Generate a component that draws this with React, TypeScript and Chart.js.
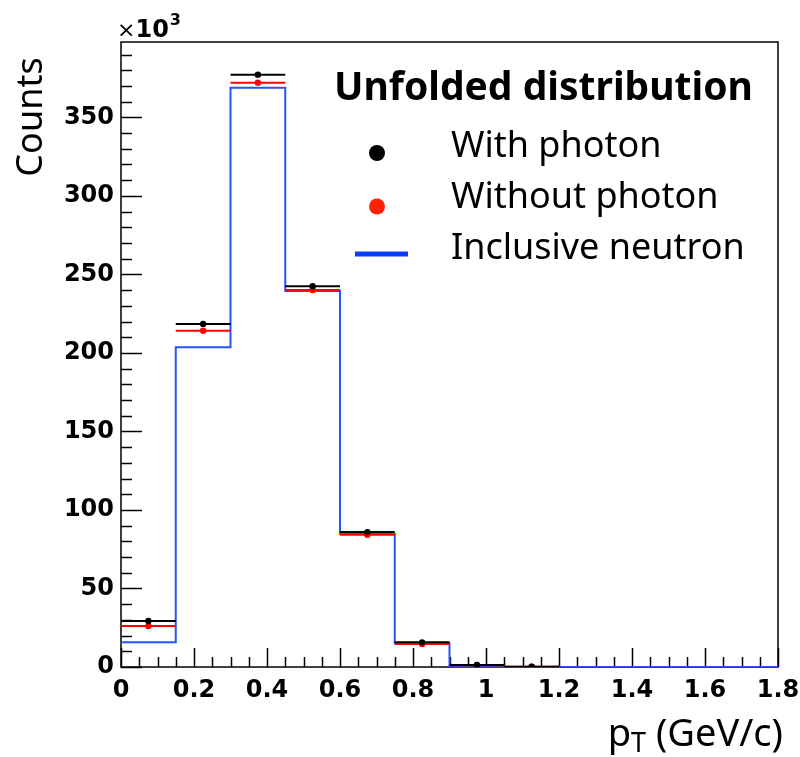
import React, { useEffect, useRef } from "react";
import { Chart, registerables } from "chart.js";
Chart.register(...registerables);

// Bin edges in pT (GeV/c)
const binEdges = [0, 0.15, 0.3, 0.45, 0.6, 0.75, 0.9, 1.05, 1.2, 1.35, 1.5, 1.65, 1.8];
// Counts in units of 10^3
const withPhoton = [29.3, 218.5, 377.2, 242.5, 85.9, 15.7, 1.3, 0.2, 0, 0, 0, 0];
const withoutPhoton = [26.1, 214.2, 372.1, 240.0, 84.2, 14.7, 1.1, 0.2, 0, 0, 0, 0];
const inclusiveNeutron = [15.7, 203.6, 368.9, 239.5, 84.8, 15.1, 0.4, 0.05, 0, 0, 0, 0];

const yTickValues = [0, 50, 100, 150, 200, 250, 300, 350];
const xTickValues = [0, 0.2, 0.4, 0.6, 0.8, 1, 1.2, 1.4, 1.6, 1.8];
const yMinorStep = 10;
const xMinorStep = 0.05;
const yMax = 398;
const xMin = 0;
const xMax = 1.8;

const legendTitle = "Unfolded distribution";
const seriesNames = ["With photon", "Without photon", "Inclusive neutron"];
const yTitle = "Counts";

const BLACK = "#000000";
const RED = "#ff0000";
const RED_LEGEND = "#ff2200";
const BLUE = "#2255ff";

type P = { x: number; y: number | null };

function errorBarPoints(values: number[]): P[] {
  const pts: P[] = [];
  values.forEach((v, i) => {
    if (v <= 0) return;
    pts.push({ x: binEdges[i], y: v }, { x: binEdges[i + 1], y: v }, { x: binEdges[i + 1], y: null });
  });
  return pts;
}
function centerPoints(values: number[]): P[] {
  const pts: P[] = [];
  values.forEach((v, i) => {
    if (v > 0) pts.push({ x: (binEdges[i] + binEdges[i + 1]) / 2, y: v });
  });
  return pts;
}
function stepPoints(values: number[]): P[] {
  const pts: P[] = [];
  values.forEach((v, i) => {
    pts.push({ x: binEdges[i], y: v }, { x: binEdges[i + 1], y: v });
  });
  return pts;
}

const TICK_FONT = "DejaVu Sans";
const TEXT_FONT = "Noto Sans";

const decor = {
  id: "decor",
  beforeDatasetsDraw(chart: any) {
    const { ctx, chartArea: a, scales } = chart;
    const xs = scales.x;
    const ys = scales.y;
    ctx.save();
    ctx.strokeStyle = "#000";
    ctx.lineWidth = 1.5;
    ctx.strokeRect(a.left, a.top, a.right - a.left, a.bottom - a.top);
    ctx.lineWidth = 1.5;
    const nY = Math.floor(yMax / yMinorStep + 1e-6);
    for (let k = 0; k <= nY; k++) {
      const v = k * yMinorStep;
      const major = yTickValues.includes(v);
      const py = Math.round(ys.getPixelForValue(v)) + 0.5;
      ctx.beginPath();
      ctx.moveTo(a.left, py);
      ctx.lineTo(a.left + (major ? 21 : 11), py);
      ctx.stroke();
    }
    const nX = Math.round((xMax - xMin) / xMinorStep);
    for (let k = 0; k <= nX; k++) {
      const v = xMin + k * xMinorStep;
      const major = xTickValues.some((t) => Math.abs(t - v) < 1e-6);
      const px = Math.round(xs.getPixelForValue(v)) + 0.5;
      ctx.beginPath();
      ctx.moveTo(px, a.bottom);
      ctx.lineTo(px, a.bottom - (major ? 19 : 10));
      ctx.stroke();
    }
    ctx.restore();
  },
  afterDraw(chart: any) {
    const { ctx } = chart;
    ctx.save();
    ctx.fillStyle = "#000";
    ctx.textBaseline = "alphabetic";
    // x10^3
    ctx.textAlign = "left";
    ctx.font = `22px ${TICK_FONT}`;
    ctx.fillText("×", 117, 37);
    const wx = ctx.measureText("×").width;
    ctx.font = `bold 24px ${TICK_FONT}`;
    ctx.fillText("10", 117 + wx, 37);
    const w10 = ctx.measureText("10").width;
    ctx.font = `bold 16px ${TICK_FONT}`;
    ctx.fillText("3", 117 + wx + w10 + 1, 25);

    // y title
    ctx.save();
    ctx.translate(42, 117);
    ctx.rotate(-Math.PI / 2);
    ctx.textAlign = "center";
    ctx.font = `36px ${TEXT_FONT}`;
    ctx.fillText(yTitle, 0, 0);
    ctx.restore();

    // x title: p_T (GeV/c)
    ctx.textAlign = "left";
    const p = "p";
    const rest = " (GeV/c)";
    ctx.font = `27px ${TEXT_FONT}`;
    const tw = ctx.measureText("T").width;
    ctx.font = `38px ${TEXT_FONT}`;
    const pw = ctx.measureText(p).width;
    const rw = ctx.measureText(rest).width;
    const xEnd = 783;
    const x0 = xEnd - (pw + tw + rw);
    ctx.fillText(p, x0, 746);
    ctx.font = `27px ${TEXT_FONT}`;
    ctx.fillText("T", x0 + pw, 752);
    ctx.font = `38px ${TEXT_FONT}`;
    ctx.fillText(rest, x0 + pw + tw, 746);

    // legend
    ctx.font = `bold 39px ${TEXT_FONT}`;
    ctx.fillText(legendTitle, 334, 100);
    ctx.font = `36px ${TEXT_FONT}`;
    ctx.fillText(seriesNames[0], 451, 157);
    ctx.fillText(seriesNames[1], 451, 208);
    ctx.fillText(seriesNames[2], 451, 259);
    ctx.fillStyle = BLACK;
    ctx.beginPath();
    ctx.arc(377, 153, 8, 0, Math.PI * 2);
    ctx.fill();
    ctx.fillStyle = RED_LEGEND;
    ctx.beginPath();
    ctx.arc(377, 206.5, 8, 0, Math.PI * 2);
    ctx.fill();
    ctx.strokeStyle = "#0a3cff";
    ctx.lineWidth = 5;
    ctx.beginPath();
    ctx.moveTo(355, 254);
    ctx.lineTo(408, 254);
    ctx.stroke();
    ctx.restore();
  },
};

export default function App() {
  const ref = useRef<HTMLCanvasElement | null>(null);
  useEffect(() => {
    if (!ref.current) return;
    const chart = new Chart(ref.current, {
      type: "line",
      data: {
        datasets: [
          {
            label: seriesNames[0] + " bars",
            data: errorBarPoints(withPhoton),
            borderColor: BLACK,
            borderWidth: 2,
            pointRadius: 0,
            spanGaps: false,
            order: 1,
          },
          {
            label: seriesNames[0],
            data: centerPoints(withPhoton),
            showLine: false,
            pointRadius: 3.2,
            pointBackgroundColor: BLACK,
            pointBorderWidth: 0,
            order: 0,
          },
          {
            label: seriesNames[1] + " bars",
            data: errorBarPoints(withoutPhoton),
            borderColor: RED,
            borderWidth: 2,
            pointRadius: 0,
            spanGaps: false,
            order: 2,
          },
          {
            label: seriesNames[1],
            data: centerPoints(withoutPhoton),
            showLine: false,
            pointRadius: 3.2,
            pointBackgroundColor: RED,
            pointBorderWidth: 0,
            order: 1,
          },
          {
            label: seriesNames[2],
            data: stepPoints(inclusiveNeutron),
            borderColor: BLUE,
            borderWidth: 2,
            pointRadius: 0,
            order: 3,
          },
        ] as any,
      },
      options: {
        animation: false,
        responsive: false,
        events: [],
        layout: { padding: { left: 0, top: 42, right: 22, bottom: 0 } },
        plugins: { legend: { display: false }, tooltip: { enabled: false } },
        scales: {
          x: {
            type: "linear",
            min: xMin,
            max: xMax,
            afterBuildTicks: (s: any) => {
              s.ticks = xTickValues.map((v) => ({ value: v }));
            },
            afterFit: (s: any) => {
              s.height = 90;
              s.paddingLeft = 0;
              s.paddingRight = 0;
            },
            grid: { display: false, drawTicks: false },
            border: { display: false },
            ticks: {
              autoSkip: false,
              maxRotation: 0,
              padding: 9,
              color: "#000",
              font: { family: TICK_FONT, weight: "bold", size: 24 },
              callback: (v: any) => String(Number(Number(v).toFixed(2))),
            },
          },
          y: {
            type: "linear",
            min: 0,
            max: yMax,
            afterBuildTicks: (s: any) => {
              s.ticks = yTickValues.map((v) => ({ value: v }));
            },
            afterFit: (s: any) => {
              s.width = 121;
              s.paddingTop = 0;
              s.paddingBottom = 0;
            },
            grid: { display: false, drawTicks: false },
            border: { display: false },
            ticks: {
              padding: 7,
              color: "#000",
              font: { family: TICK_FONT, weight: "bold", size: 24 },
              callback: (v: any) => String(v),
            },
          },
        },
      } as any,
      plugins: [decor],
    });
    return () => chart.destroy();
  }, []);
  return (
    <div style={{ position: "absolute", left: 0, top: 0, width: 800, height: 757, background: "#fff" }}>
      <canvas ref={ref} width={800} height={757} style={{ display: "block" }} />
    </div>
  );
}
